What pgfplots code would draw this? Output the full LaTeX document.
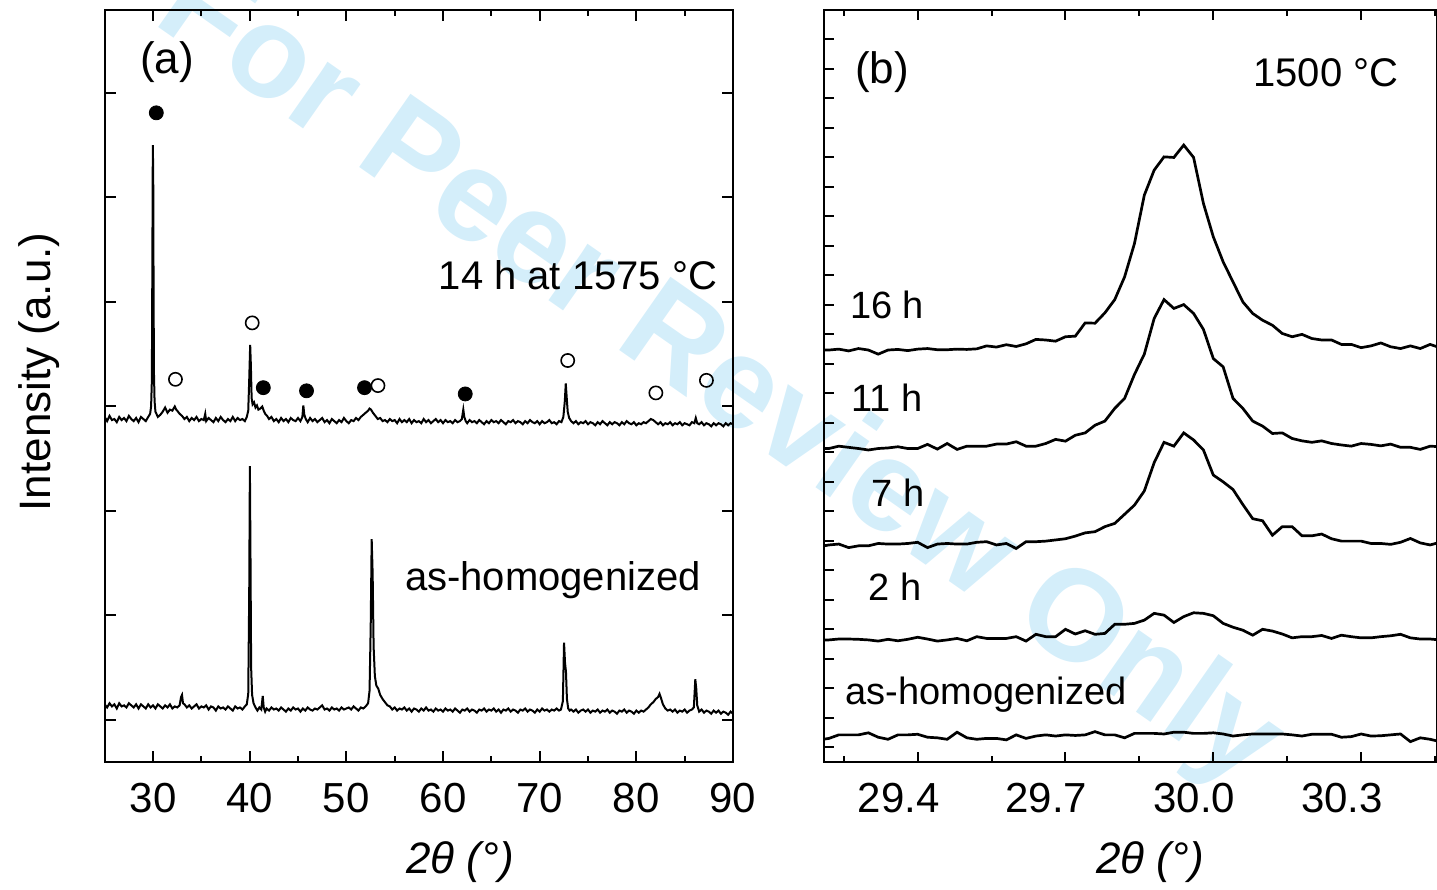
\documentclass[border=0pt]{standalone}
\usepackage{fontspec}
\setmainfont{Liberation Sans}
\usepackage{pgfplots}
\usepackage{pgfplotstable}
\pgfplotsset{compat=1.18}
\definecolor{wmblue}{RGB}{212,238,250}

% ---------- (a) full patterns: 14 h at 1575 C (offset) ----------
\pgfplotstableread{
x y
25.00 2.90
25.25 2.86
25.50 2.91
25.75 2.87
26.00 2.88
26.25 2.85
26.50 2.90
26.75 2.87
27.00 2.89
27.25 2.86
27.50 2.91
27.75 2.88
28.00 2.86
28.25 2.89
28.50 2.85
28.75 2.90
29.00 2.88
29.25 2.86
29.50 2.90
29.70 2.93
29.80 3.00
29.88 3.25
29.94 4.60
29.98 5.50
30.02 5.20
30.06 4.00
30.10 3.30
30.16 3.05
30.25 2.95
30.50 2.90
30.75 2.92
31.00 2.95
31.25 2.99
31.50 2.94
31.75 2.97
32.00 2.96
32.25 3.00
32.40 2.97
32.50 2.96
32.75 2.93
33.00 2.91
33.25 2.88
33.50 2.90
33.75 2.86
34.00 2.89
34.25 2.87
34.50 2.90
34.75 2.86
35.00 2.88
35.25 2.87
35.40 2.93
35.50 2.86
35.75 2.89
36.00 2.87
36.25 2.85
36.50 2.89
36.75 2.86
37.00 2.90
37.25 2.87
37.50 2.85
37.75 2.88
38.00 2.86
38.25 2.90
38.50 2.86
38.75 2.89
39.00 2.87
39.25 2.88
39.50 2.86
39.70 2.90
39.85 2.96
39.95 3.25
40.05 3.59
40.12 3.40
40.20 3.08
40.30 3.02
40.45 3.04
40.60 2.99
40.75 3.01
40.90 2.97
41.10 2.98
41.30 3.00
41.45 2.96
41.60 2.93
41.80 2.91
42.00 2.88
42.25 2.90
42.50 2.86
42.75 2.88
43.00 2.85
43.25 2.89
43.50 2.86
43.75 2.88
44.00 2.85
44.25 2.89
44.50 2.87
44.75 2.86
45.00 2.89
45.25 2.86
45.45 2.90
45.55 3.01
45.65 2.92
45.80 2.88
46.00 2.85
46.25 2.89
46.50 2.86
46.75 2.88
47.00 2.85
47.25 2.87
47.50 2.89
47.75 2.85
48.00 2.87
48.25 2.84
48.50 2.88
48.75 2.86
49.00 2.84
49.25 2.87
49.50 2.85
49.75 2.89
50.00 2.86
50.25 2.84
50.50 2.87
50.75 2.86
51.00 2.89
51.25 2.87
51.50 2.90
51.75 2.92
52.00 2.94
52.25 2.96
52.40 2.98
52.55 2.97
52.75 2.94
53.00 2.91
53.25 2.88
53.50 2.89
53.75 2.86
54.00 2.87
54.25 2.85
54.50 2.88
54.75 2.86
55.00 2.87
55.25 2.84
55.50 2.88
55.75 2.85
56.00 2.87
56.25 2.85
56.50 2.88
56.75 2.84
57.00 2.87
57.25 2.85
57.50 2.86
57.75 2.84
58.00 2.88
58.25 2.85
58.50 2.87
58.75 2.84
59.00 2.86
59.25 2.88
59.50 2.85
59.75 2.87
60.00 2.84
60.25 2.87
60.50 2.85
60.75 2.86
61.00 2.84
61.25 2.87
61.50 2.85
61.75 2.86
61.95 2.88
62.10 2.97
62.20 2.90
62.35 2.86
62.50 2.84
62.75 2.87
63.00 2.85
63.25 2.86
63.50 2.84
63.75 2.87
64.00 2.85
64.25 2.83
64.50 2.86
64.75 2.84
65.00 2.87
65.25 2.85
65.50 2.86
65.75 2.84
66.00 2.87
66.25 2.85
66.50 2.83
66.75 2.86
67.00 2.85
67.25 2.87
67.50 2.84
67.75 2.86
68.00 2.85
68.25 2.83
68.50 2.86
68.75 2.84
69.00 2.87
69.25 2.85
69.50 2.84
69.75 2.86
70.00 2.83
70.25 2.86
70.50 2.84
70.75 2.85
71.00 2.87
71.25 2.84
71.50 2.85
71.75 2.83
72.00 2.86
72.25 2.85
72.45 2.90
72.60 3.05
72.70 3.22
72.80 3.08
72.90 2.95
73.05 2.89
73.25 2.86
73.50 2.84
73.75 2.86
74.00 2.83
74.25 2.85
74.50 2.84
74.75 2.86
75.00 2.83
75.25 2.85
75.50 2.84
75.75 2.82
76.00 2.85
76.25 2.83
76.50 2.86
76.75 2.84
77.00 2.82
77.25 2.85
77.50 2.83
77.75 2.85
78.00 2.84
78.25 2.82
78.50 2.85
78.75 2.83
79.00 2.86
79.25 2.84
79.50 2.83
79.75 2.85
80.00 2.82
80.25 2.84
80.50 2.83
80.75 2.85
81.00 2.84
81.25 2.86
81.50 2.88
81.75 2.87
82.00 2.85
82.25 2.83
82.50 2.85
82.75 2.82
83.00 2.84
83.25 2.83
83.50 2.85
83.75 2.82
84.00 2.84
84.25 2.83
84.50 2.85
84.75 2.82
85.00 2.84
85.25 2.83
85.50 2.82
85.75 2.85
86.00 2.84
86.15 2.89
86.30 2.84
86.50 2.83
86.75 2.85
87.00 2.82
87.25 2.84
87.50 2.83
87.75 2.81
88.00 2.84
88.25 2.82
88.50 2.84
88.75 2.83
89.00 2.81
89.25 2.84
89.50 2.82
89.75 2.84
90.00 2.83
}\annealed

% ---------- (a) full pattern: as-homogenized ----------
\pgfplotstableread{
x y
25.00 0.15
25.25 0.12
25.50 0.16
25.75 0.13
26.00 0.15
26.25 0.11
26.50 0.16
26.75 0.13
27.00 0.14
27.25 0.12
27.50 0.16
27.75 0.14
28.00 0.12
28.25 0.15
28.50 0.11
28.75 0.15
29.00 0.13
29.25 0.11
29.50 0.15
29.75 0.12
30.00 0.14
30.25 0.11
30.50 0.15
30.75 0.13
31.00 0.11
31.25 0.14
31.50 0.12
31.75 0.15
32.00 0.11
32.25 0.13
32.50 0.12
32.75 0.14
32.90 0.22
33.00 0.24
33.10 0.16
33.25 0.15
33.50 0.12
33.75 0.14
34.00 0.11
34.25 0.13
34.50 0.15
34.75 0.11
35.00 0.13
35.25 0.12
35.50 0.14
35.75 0.10
36.00 0.13
36.25 0.12
36.50 0.09
36.75 0.13
37.00 0.11
37.25 0.12
37.50 0.10
37.75 0.13
38.00 0.11
38.25 0.09
38.50 0.13
38.75 0.11
39.00 0.12
39.25 0.10
39.50 0.13
39.70 0.15
39.85 0.25
39.95 1.20
40.02 2.43
40.08 1.60
40.15 0.50
40.25 0.24
40.40 0.16
40.60 0.12
40.80 0.09
41.00 0.12
41.20 0.10
41.35 0.23
41.45 0.12
41.60 0.08
41.75 0.11
42.00 0.09
42.25 0.12
42.50 0.10
42.75 0.11
43.00 0.09
43.25 0.12
43.50 0.10
43.75 0.08
44.00 0.11
44.25 0.09
44.50 0.12
44.75 0.10
45.00 0.11
45.25 0.08
45.50 0.11
45.75 0.09
46.00 0.12
46.25 0.10
46.50 0.09
46.75 0.11
47.00 0.10
47.25 0.12
47.50 0.14
47.75 0.10
48.00 0.11
48.25 0.09
48.50 0.12
48.75 0.10
49.00 0.11
49.25 0.09
49.50 0.12
49.75 0.10
50.00 0.11
50.25 0.12
50.50 0.10
50.75 0.13
51.00 0.11
51.25 0.09
51.50 0.12
51.75 0.11
52.00 0.13
52.25 0.16
52.40 0.28
52.52 0.90
52.62 1.73
52.72 1.40
52.82 0.70
52.95 0.42
53.10 0.33
53.30 0.30
53.50 0.24
53.75 0.20
54.00 0.17
54.25 0.14
54.50 0.13
54.75 0.10
55.00 0.12
55.25 0.09
55.50 0.11
55.75 0.10
56.00 0.12
56.25 0.09
56.50 0.11
56.75 0.08
57.00 0.11
57.25 0.10
57.50 0.08
57.75 0.11
58.00 0.09
58.25 0.12
58.50 0.09
58.75 0.10
59.00 0.08
59.25 0.11
59.50 0.09
59.75 0.10
60.00 0.08
60.25 0.11
60.50 0.09
60.75 0.10
61.00 0.08
61.25 0.11
61.50 0.09
61.75 0.07
62.00 0.10
62.25 0.09
62.50 0.11
62.75 0.08
63.00 0.10
63.25 0.09
63.50 0.07
63.75 0.10
64.00 0.09
64.25 0.11
64.50 0.08
64.75 0.10
65.00 0.09
65.25 0.11
65.50 0.08
65.75 0.10
66.00 0.07
66.25 0.10
66.50 0.09
66.75 0.11
67.00 0.08
67.25 0.10
67.50 0.09
67.75 0.07
68.00 0.10
68.25 0.09
68.50 0.11
68.75 0.08
69.00 0.10
69.25 0.09
69.50 0.07
69.75 0.10
70.00 0.08
70.25 0.11
70.50 0.09
70.75 0.10
71.00 0.08
71.25 0.10
71.50 0.09
71.75 0.11
72.00 0.09
72.20 0.10
72.40 0.18
72.52 0.74
72.62 0.55
72.72 0.46
72.82 0.20
72.95 0.11
73.10 0.09
73.25 0.10
73.50 0.08
73.75 0.10
74.00 0.07
74.25 0.09
74.50 0.10
74.75 0.08
75.00 0.10
75.25 0.07
75.50 0.09
75.75 0.08
76.00 0.10
76.25 0.07
76.50 0.09
76.75 0.08
77.00 0.10
77.25 0.07
77.50 0.09
77.75 0.08
78.00 0.06
78.25 0.09
78.50 0.08
78.75 0.10
79.00 0.07
79.25 0.09
79.50 0.08
79.75 0.06
80.00 0.09
80.25 0.07
80.50 0.09
80.75 0.08
81.00 0.10
81.25 0.12
81.50 0.15
81.75 0.17
82.00 0.20
82.25 0.22
82.40 0.25
82.55 0.21
82.75 0.15
83.00 0.11
83.25 0.09
83.50 0.10
83.75 0.08
84.00 0.10
84.25 0.07
84.50 0.09
84.75 0.08
85.00 0.10
85.25 0.07
85.50 0.09
85.75 0.10
85.95 0.12
86.10 0.39
86.20 0.30
86.30 0.14
86.50 0.08
86.75 0.10
87.00 0.07
87.25 0.09
87.50 0.08
87.75 0.06
88.00 0.09
88.25 0.07
88.50 0.09
88.75 0.06
89.00 0.08
89.25 0.07
89.50 0.05
89.75 0.08
90.00 0.06
}\homog

% ---------- (b) detail of the 30 deg peak at 1500 C ----------
\pgfplotstableread{
x as h2 h7 h11 h16
29.20 0.25 3.64 6.80 10.13 13.47
29.22 0.30 3.64 6.86 10.13 13.47
29.24 0.42 3.67 6.89 10.21 13.50
29.26 0.42 3.67 6.77 10.17 13.44
29.28 0.42 3.66 6.83 10.13 13.52
29.30 0.49 3.64 6.83 10.08 13.47
29.32 0.34 3.60 6.91 10.13 13.33
29.34 0.27 3.66 6.89 10.15 13.47
29.36 0.42 3.61 6.89 10.19 13.49
29.38 0.42 3.66 6.91 10.13 13.45
29.40 0.44 3.73 6.95 10.13 13.50
29.42 0.34 3.67 6.77 10.27 13.52
29.44 0.32 3.60 6.89 10.11 13.48
29.46 0.27 3.64 6.91 10.30 13.48
29.48 0.51 3.69 6.89 10.10 13.50
29.50 0.32 3.61 6.89 10.21 13.49
29.52 0.27 3.75 6.95 10.21 13.51
29.54 0.30 3.69 6.97 10.21 13.61
29.56 0.30 3.69 6.86 10.28 13.57
29.58 0.25 3.69 6.91 10.28 13.65
29.60 0.42 3.75 6.74 10.36 13.59
29.62 0.30 3.60 6.97 10.21 13.68
29.64 0.38 3.83 6.97 10.21 13.83
29.66 0.42 3.75 6.99 10.30 13.81
29.68 0.38 3.75 7.03 10.44 13.77
29.70 0.42 4.00 7.07 10.38 13.92
29.72 0.40 3.84 7.16 10.58 13.94
29.74 0.42 3.95 7.27 10.66 14.39
29.76 0.53 3.83 7.31 10.92 14.38
29.78 0.42 3.86 7.48 11.06 14.73
29.80 0.42 4.17 7.59 11.49 15.18
29.82 0.32 4.17 7.90 11.83 15.95
29.84 0.47 4.20 8.21 12.64 17.08
29.86 0.47 4.31 8.69 13.33 18.72
29.88 0.47 4.54 9.65 14.54 19.57
29.90 0.45 4.48 10.34 15.18 20.02
29.92 0.51 4.23 10.21 14.88 20.00
29.94 0.51 4.43 10.66 15.01 20.42
29.96 0.47 4.56 10.42 14.71 20.00
29.98 0.47 4.54 10.08 14.17 18.44
30.00 0.49 4.46 9.23 13.18 17.31
30.02 0.45 4.20 9.00 12.90 16.46
30.04 0.38 4.07 8.74 11.83 15.78
30.06 0.42 3.97 8.23 11.49 15.10
30.08 0.45 3.80 7.75 11.06 14.71
30.10 0.45 4.00 7.68 10.89 14.48
30.12 0.45 3.94 7.19 10.64 14.31
30.14 0.45 3.84 7.48 10.66 14.03
30.16 0.42 3.71 7.48 10.47 13.92
30.18 0.38 3.75 7.17 10.39 14.00
30.20 0.44 3.75 7.17 10.34 13.86
30.22 0.44 3.79 7.23 10.39 13.81
30.24 0.44 3.69 7.07 10.30 13.81
30.26 0.34 3.80 6.99 10.25 13.66
30.28 0.36 3.75 6.99 10.21 13.66
30.30 0.45 3.71 6.99 10.30 13.55
30.32 0.38 3.71 6.91 10.27 13.61
30.34 0.39 3.75 6.91 10.22 13.71
30.36 0.42 3.78 6.88 10.28 13.58
30.38 0.45 3.83 6.95 10.17 13.52
30.40 0.19 3.71 7.08 10.17 13.61
30.42 0.32 3.67 6.93 10.10 13.52
30.44 0.27 3.67 6.86 10.21 13.66
30.46 0.19 3.64 6.95 10.19 13.55
}\detail

\pgfplotsset{
  xrdframe/.style={
    scale only axis,
    anchor=south west,
    axis line style={line width=1.2pt},
    tick style={black, line width=1pt},
    tick align=inside,
    major tick length=5.5pt,
    minor tick length=3pt,
    xtick pos=both,
    yticklabels={},
    xticklabel style={font=\fontsize{21}{25}\selectfont, yshift=-7pt},
  },
}

\begin{document}
\begin{tikzpicture}[x=1pt,y=1pt]

% background mark
\node[rotate=-35, text=wmblue, inner sep=0,
      font=\fontsize{65}{65}\selectfont\bfseries] at (359,256) {For Peer Review Only};

% ---------------- panel (a) ----------------
\begin{axis}[xrdframe,
  at={(52.35pt,64pt)}, width=314.15pt, height=376pt,
  xmin=25, xmax=90, ymin=-0.402, ymax=6.794,
  xtick={30,40,50,60,70,80,90},
  xticklabels={30,40,50,60,70,80,90},
  minor xtick={25,35,45,55,65,75,85},
  ytick={0,1,2,3,4,5,6}, ytick pos=both,
]
\addplot[black, line width=1pt] table[x=x, y=y] {\annealed};
\addplot[black, line width=1pt] table[x=x, y=y] {\homog};
% phase markers
\addplot[only marks, mark=*, mark size=3.5pt, black] coordinates {
  (30.34,5.81) (41.41,3.18) (45.88,3.15) (51.88,3.18) (62.30,3.12)};
\addplot[only marks, mark=o, mark size=3.3pt, black, mark options={line width=0.8pt}] coordinates {
  (32.32,3.26) (40.26,3.80) (53.27,3.20) (72.90,3.44) (82.02,3.13) (87.25,3.25)};
\end{axis}

% ---------------- panel (b) ----------------
\begin{axis}[xrdframe,
  at={(412pt,64pt)}, width=306.75pt, height=376pt,
  xmin=29.21, xmax=30.455, ymin=-0.5, ymax=25,
  xtick={29.4,29.7,30.0,30.3},
  xticklabels={29.4,29.7,30.0,30.3},
  xticklabel style={xshift=-9.5pt},
  minor xtick={29.25,29.55,29.85,30.15,30.45},
  ytick={0,1,...,24}, ytick pos=left,
  major tick length=5pt,
]
\addplot[black, line width=1.35pt] table[x=x, y=as]  {\detail};
\addplot[black, line width=1.35pt] table[x=x, y=h2]  {\detail};
\addplot[black, line width=1.35pt] table[x=x, y=h7]  {\detail};
\addplot[black, line width=1.35pt] table[x=x, y=h11] {\detail};
\addplot[black, line width=1.35pt] table[x=x, y=h16] {\detail};
\end{axis}

% ---------------- labels ----------------
\node[rotate=90, font=\fontsize{22}{26}\selectfont] at (19.5,259) {Intensity (a.u.)};
\node[font=\fontsize{22}{26}\selectfont\itshape] at (230,14) {2θ (°)};
\node[font=\fontsize{22}{26}\selectfont\itshape] at (575,14) {2θ (°)};

\node[font=\fontsize{22}{26}\selectfont] at (83.5,414) {(a)};
\node[font=\fontsize{20}{24}\selectfont] at (289,307.5) {14 h at 1575 °C};
\node[font=\fontsize{20}{24}\selectfont] at (276.5,155) {as-homogenized};

\node[font=\fontsize{22}{26}\selectfont] at (441,409) {(b)};
\node[font=\fontsize{20}{24}\selectfont] at (663,408.5) {1500 °C};
\node[font=\fontsize{19}{23}\selectfont] at (443.5,292.5) {16 h};
\node[font=\fontsize{19}{23}\selectfont] at (443.5,246) {11 h};
\node[font=\fontsize{19}{23}\selectfont] at (449,198.5) {7 h};
\node[font=\fontsize{19}{23}\selectfont] at (447.5,151.5) {2 h};
\node[font=\fontsize{19}{23}\selectfont] at (493,97.5) {as-homogenized};

\pgfresetboundingbox
\path[use as bounding box] (0,0) rectangle (718.5,445);
\end{tikzpicture}
\end{document}
